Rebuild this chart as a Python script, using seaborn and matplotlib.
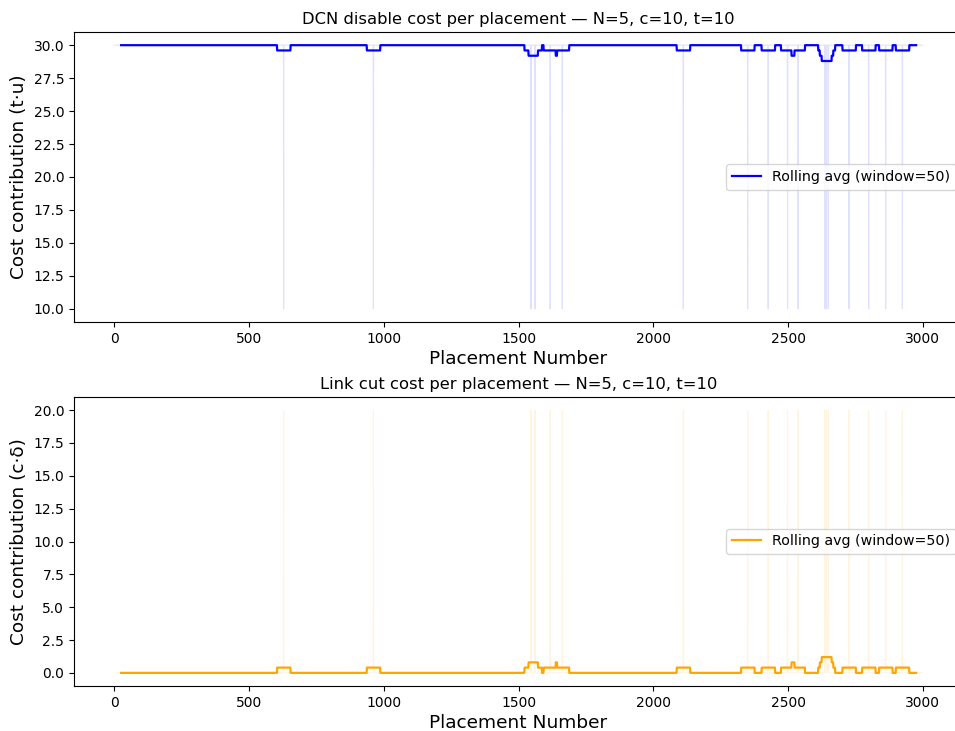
import numpy as np
import pandas as pd
import matplotlib
matplotlib.use("Agg")
import matplotlib.pyplot as plt
import seaborn as sns

# Simulation parameters
N_NODES = 5
C_LINK = 10
T_DCN = 10
N_PLACEMENTS = 3000
WINDOW = 50

# Placements at which a link was cut instead of a DCN being disabled
cut_placements = [628, 961, 1546, 1561, 1617, 1662, 2111, 2350, 2426, 2498,
                  2537, 2636, 2642, 2649, 2726, 2799, 2862, 2924]

# Per-placement cost contributions for the two cases
dcn_cost_normal, dcn_cost_cut = 30.0, 10.0
link_cost_normal, link_cost_cut = 0.0, 20.0

placement = np.arange(N_PLACEMENTS)
is_cut = np.isin(placement, cut_placements)
df = pd.DataFrame({
    "placement": placement,
    "dcn": np.where(is_cut, dcn_cost_cut, dcn_cost_normal),
    "link": np.where(is_cut, link_cost_cut, link_cost_normal),
})
df["dcn_roll"] = df["dcn"].rolling(WINDOW, center=True).mean()
df["link_roll"] = df["link"].rolling(WINDOW, center=True).mean()

W, H = 955, 731
fig = plt.figure(figsize=(W / 100, H / 100), dpi=100)


def axes_px(left, right, top, bottom):
    return fig.add_axes([left / W, (H - bottom) / H, (right - left) / W, (bottom - top) / H])


ax1 = axes_px(74, 963, 32, 322)
ax2 = axes_px(74, 963, 397, 686)

panels = [
    (ax1, "dcn", "dcn_roll", "blue",
     f"DCN disable cost per placement — N={N_NODES}, c={C_LINK}, t={T_DCN}",
     "Cost contribution (t·u)", np.arange(10, 30.1, 2.5)),
    (ax2, "link", "link_roll", "orange",
     f"Link cut cost per placement — N={N_NODES}, c={C_LINK}, t={T_DCN}",
     "Cost contribution (c·δ)", np.arange(0, 20.1, 2.5)),
]

for ax, raw, roll, color, title, ylabel, yticks in panels:
    sns.lineplot(data=df, x="placement", y=raw, ax=ax, color=color,
                 alpha=0.12, linewidth=0.8, estimator=None)
    sns.lineplot(data=df, x="placement", y=roll, ax=ax, color=color,
                 linewidth=1.6, estimator=None,
                 label=f"Rolling avg (window={WINDOW})")
    ax.set_title(title, fontsize=11.8)
    ax.set_xlabel("Placement Number", fontsize=13.3, labelpad=3)
    ax.set_ylabel(ylabel, fontsize=13.3)
    ax.set_yticks(yticks)
    ax.set_xticks(np.arange(0, 3001, 500))
    ax.tick_params(labelsize=10)
    ax.legend(loc="center right", fontsize=10.3)

fig.savefig("out.png", dpi=100)
